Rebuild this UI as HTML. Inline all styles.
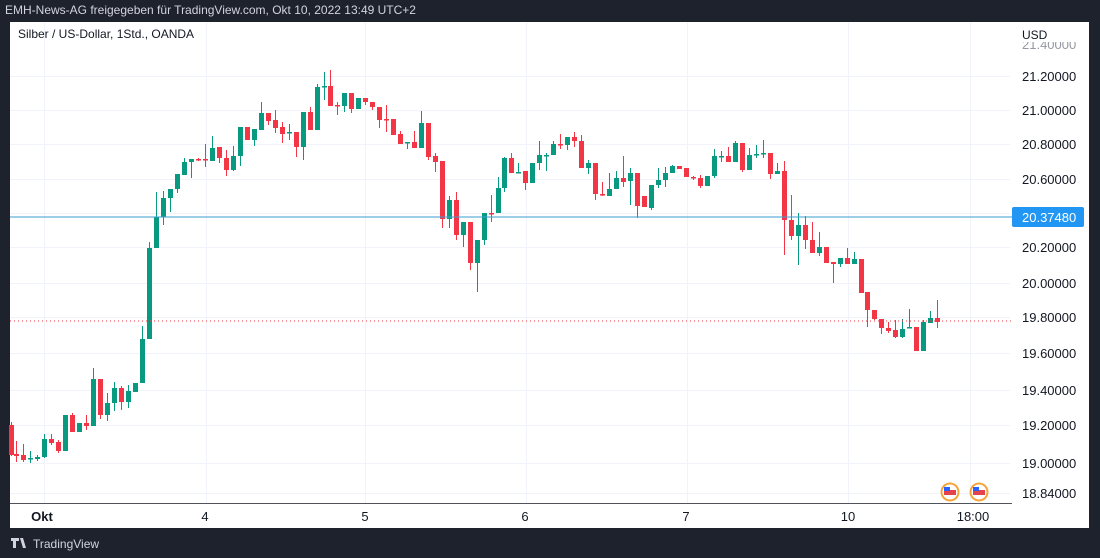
<!DOCTYPE html>
<html><head><meta charset="utf-8"><style>
html,body{margin:0;padding:0;background:#1e222d;width:1100px;height:558px;overflow:hidden;font-family:"Liberation Sans",sans-serif}
svg{position:absolute;left:0;top:0}
</style></head><body>
<svg id="s" width="1100" height="558" xmlns="http://www.w3.org/2000/svg">
<rect x="0" y="0" width="1100" height="558" fill="#1e222d"/>
<text x="5" y="14" fill="#d1d4dc" font-size="12">EMH-News-AG freigegeben für TradingView.com, Okt 10, 2022 13:49 UTC+2</text>
<rect x="10" y="22" width="1079" height="506" fill="#ffffff"/>
<g id="grid" stroke="#f0f3fa" stroke-width="1"></g>
<g id="c"></g>
<line x1="10" y1="217" x2="1012" y2="217" stroke="#3a9fcf" stroke-width="1"/>
<line x1="10" y1="321" x2="1012" y2="321" stroke="#f23645" stroke-width="1" stroke-dasharray="1,3"/>
<line x1="10" y1="503.5" x2="1012" y2="503.5" stroke="#50535e" stroke-width="1"/>
<text x="18" y="38" fill="#131722" font-size="12">Silber / US-Dollar, 1Std., OANDA</text>
<g id="pl" font-size="13" fill="#131722"></g>
<rect x="1012" y="22" width="77" height="20" fill="#ffffff"/>
<text x="1022" y="39" fill="#131722" font-size="12">USD</text>
<rect x="1012" y="207" width="72" height="20" rx="2" fill="#2196f3"/>
<text x="1022" y="222" fill="#ffffff" font-size="13">20.37480</text>
<g font-size="13" fill="#131722" text-anchor="middle">
<text x="42" y="521" font-weight="bold">Okt</text>
<text x="205" y="521">4</text><text x="365" y="521">5</text><text x="525" y="521">6</text>
<text x="686" y="521">7</text><text x="848" y="521">10</text><text x="973" y="521">18:00</text>
</g>
<g>
<circle cx="950" cy="492" r="9.5" fill="#f7a43a"/><circle cx="950" cy="492" r="7.5" fill="#fff"/>
<rect x="944" y="490" width="12" height="5" fill="#e5434a"/><rect x="944" y="487" width="6" height="4" fill="#2962ff"/>
<circle cx="979" cy="492" r="9.5" fill="#f7a43a"/><circle cx="979" cy="492" r="7.5" fill="#fff"/>
<rect x="973" y="490" width="12" height="5" fill="#e5434a"/><rect x="973" y="487" width="6" height="4" fill="#2962ff"/>
</g>
<path d="M11 538h8v3h-3v7h-3v-7h-2z M20 538h3l3 10h-3z" fill="#d1d4dc"/>
<text x="33" y="548" fill="#d1d4dc" font-size="12">TradingView</text>
</svg>
<script>
var NS="http://www.w3.org/2000/svg";
function el(p,t,a){var e=document.createElementNS(NS,t);for(var k in a)e.setAttribute(k,a[k]);p.appendChild(e);return e;}
var g=document.getElementById('grid');
[44,206,365,526,687,848,970].forEach(function(x){el(g,'line',{x1:x+.5,y1:22,x2:x+.5,y2:503});});
var pr=[[76,"21.20000"],[110,"21.00000"],[144,"20.80000"],[179,"20.60000"],[247,"20.20000"],[283,"20.00000"],[317,"19.80000"],[353,"19.60000"],[390,"19.40000"],[425,"19.20000"],[463,"19.00000"],[493,"18.84000"]];
var pl=document.getElementById('pl');
pr.forEach(function(p){el(g,'line',{x1:10,y1:p[0]+.5,x2:1010,y2:p[0]+.5});var t=el(pl,'text',{x:1022,y:p[0]+5});t.textContent=p[1];});
el(g,'line',{x1:10,y1:213.5,x2:1010,y2:213.5});
var t=el(pl,'text',{x:1022,y:49,fill:'#9598a1'});t.textContent="21.40000";
var D=[
[11,425,455,422,456],[16,454,456,441,462],[23,455,460,444,462],[30,459,458,451,463],[37,459,457,455,461],
[44,457,439,434,458],[51,439,443,434,445],[58,442,451,440,453],[65,451,415,415,451],[72,415,432,413,432],
[79,432,423,423,432],[86,423,426,415,430],[93,426,379,368,426],[100,379,415,379,419],[107,415,403,393,421],
[114,403,388,382,411],[121,388,402,386,410],[128,402,391,385,408],[135,392,383,383,392],[142,383,339,326,383],
[149,339,248,242,339],[156,248,217,192,248],[163,217,198,191,225],[170,198,189,189,212],[177,189,174,174,193],
[184,175,162,158,175],[191,162,159,159,178],[198,159,160,158,161],[205,159,160,144,167],[212,161,148,136,161],
[219,147,158,147,163],[226,158,170,150,176],[233,170,156,146,171],[240,156,127,127,166],[247,127,140,127,140],
[254,140,129,129,146],[261,130,113,102,130],[268,113,121,113,125],[275,120,128,110,133],[282,127,134,122,143],
[289,133,132,124,140],[296,132,147,132,157],[303,147,112,112,160],[310,112,130,107,130],[317,130,87,84,130],
[324,87,86,72,100],[330,86,106,70,106],[337,105,106,102,115],[344,106,93,93,112],[351,93,109,93,113],
[358,109,98,98,109],[365,98,102,98,105],[372,102,107,102,110],[379,107,120,107,128],[386,119,120,105,132],
[393,119,135,119,135],[400,134,144,131,144],[407,143,142,142,149],[414,142,148,131,148],[421,148,123,111,148],
[428,123,157,123,160],[435,156,162,153,172],[442,161,219,161,228],[449,219,200,196,228],[456,200,235,192,240],
[463,235,222,222,247],[470,222,263,222,270],[477,263,240,240,292],[484,240,213,213,245],[491,213,214,195,222],
[498,213,188,177,213],[504,188,158,157,192],[511,158,173,153,173],[518,173,172,163,173],[525,171,183,171,190],
[532,183,163,163,183],[539,163,155,141,170],[546,156,155,153,171],[553,155,144,141,155],[560,144,145,134,149],
[567,145,137,137,150],[574,137,141,132,147],[581,141,168,135,168],[588,168,163,160,174],[595,163,194,163,200],
[602,194,195,182,196],[609,196,189,173,196],[616,189,178,171,189],[623,178,182,156,187],[630,181,173,168,205],
[637,173,206,173,218],[644,196,207,196,207],[651,208,185,185,210],[658,185,180,168,188],[665,180,173,167,187],
[672,173,166,165,173],[679,166,169,166,169],[686,168,177,168,177],[693,177,178,176,180],[700,178,186,175,188],
[707,186,176,176,186],[714,176,156,149,178],[721,157,156,151,162],[728,156,162,147,162],[735,162,143,141,162],
[742,143,170,143,172],[749,170,155,148,170],[756,155,154,145,158],[763,154,153,140,158],[770,153,174,153,179],
[777,174,171,163,174],[784,171,220,161,255],[791,220,236,195,240],[798,236,225,213,265],[805,225,240,216,249],
[812,240,253,222,253],[819,253,247,232,256],[826,247,263,247,263],[833,262,264,262,283],[840,264,258,258,267],
[847,258,264,248,264],[854,264,259,252,264],[861,259,293,259,293],[867,292,310,292,327],[874,310,319,310,320],
[881,319,328,319,334],[888,328,331,322,333],[895,330,337,320,338],[902,337,329,319,338],[909,328,327,309,328],
[916,327,351,327,351],[923,351,322,320,351],[930,323,318,311,323],[937,318,322,300,328]];
var c=document.getElementById('c');
D.forEach(function(d){var x=d[0],o=d[1],cl=d[2],h=d[3],l=d[4];var up=cl<o;var col=up?'#089981':'#f23645';
var top=Math.min(o,cl),bot=Math.max(o,cl);if(bot-top<1.5){bot=top+1.5;}
el(c,'line',{x1:x+.5,y1:h,x2:x+.5,y2:l,stroke:col,'stroke-width':1});
el(c,'rect',{x:x-2,y:top,width:5,height:bot-top,fill:col});});
</script>
</body></html>
